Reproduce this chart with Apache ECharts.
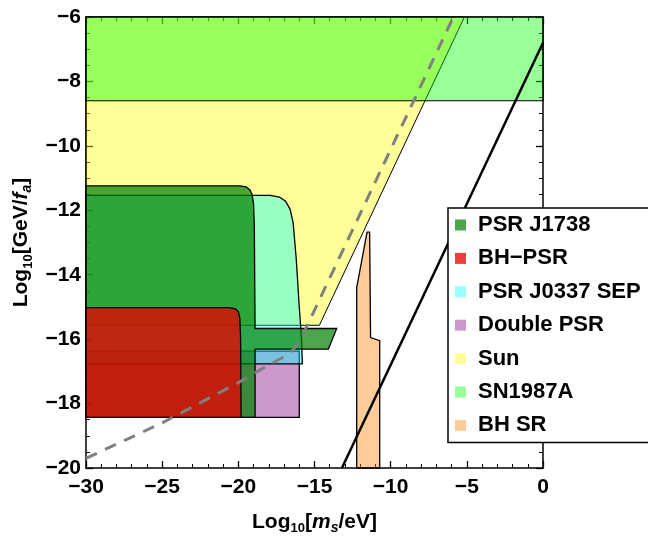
<!DOCTYPE html>
<html><head><meta charset="utf-8">
<script src="https://cdn.jsdelivr.net/npm/echarts@6/dist/echarts.min.js"></script>
<style>html,body{margin:0;padding:0;background:#fff}#c{width:648px;height:540px}</style>
</head><body><div id="c"></div>
<script>
// ---- data (x = log10(m_s/eV), y = log10(GeV/f_a)) ----
const sunRegion = [[-30,-6],[-5.16,-6],[-14.68,-15.57],[-30,-15.57]];
const sn1987aRegion = [[-30,-8.6],[0,-8.6],[0,-6],[-30,-6]];
const doublePsrRegion = [[-30,-16.37],[-16.0,-16.37],[-16.0,-18.43],[-30,-18.43]];
const j0337Region = [[-30,-11.54],[-17.9,-11.54],[-17.3,-11.59],[-16.9,-11.72],[-16.6,-11.97],[-16.4,-12.4],[-16.2,-13.5],[-16.0,-15.0],[-15.85,-16.0],[-15.8,-16.77],[-30,-16.77]];
const j1738Region = [[-30,-11.24],[-19.9,-11.24],[-19.5,-11.27],[-19.25,-11.36],[-19.1,-11.5],[-19.0,-11.8],[-18.95,-12.5],[-18.9,-15.67],[-13.54,-15.67],[-14.09,-16.31],[-18.9,-16.31],[-18.9,-18.43],[-30,-18.43]];
const bhPsrRegion = [[-30,-15.02],[-20.6,-15.02],[-20.2,-15.06],[-20.0,-15.15],[-19.9,-15.35],[-19.85,-16],[-19.82,-18.43],[-30,-18.43]];
const bhSrRegion = [[-12.23,-20],[-12.23,-14.4],[-11.55,-12.68],[-11.38,-12.68],[-11.32,-15.95],[-10.72,-16.05],[-10.72,-20]];
const dashedCurve = [[-30,-19.7],[-25,-18.6],[-20,-17.35],[-18,-16.8],[-17,-16.55],[-16.4,-16.33],[-15.9,-16.0],[-15.4,-15.5],[-5.88,-6.0]];
const blackLine = [[-13.2,-20],[0,-6.8]];
const legendNames = ['PSR J1738','BH\u2212PSR','PSR J0337 SEP','Double PSR','Sun','SN1987A','BH SR'];
const legendColors = ['#4da64d','#f03d3d','#99ffff','#cc99cc','#ffff99','#99ff99','#ffcc99'];
const xRange = [-30, 0], xStep = 5;
const yRange = [-20, -6], yStep = 2;

const FF = '"Liberation Sans", Arial, Helvetica, sans-serif';
function poly(name, pts, fill, lw) {
  return {
    type: 'custom', name, silent: true, coordinateSystem: 'cartesian2d',
    data: pts, encode: {x: 0, y: 1},
    renderItem: (params, api) => {
      if (params.dataIndex !== 0) return null;
      return {type: 'polygon', shape: {points: pts.map(p => api.coord(p))},
        style: {fill, stroke: '#000', lineWidth: lw}};
    }
  };
}
const minus = v => String(v).replace('-', '\u2212');
const rich = {
  b: {fontSize: 21, fontWeight: 'bold', fontFamily: FF, color: '#000', lineHeight: 26},
  sub: {fontSize: 13, fontWeight: 'bold', fontFamily: FF, color: '#000', lineHeight: 12, verticalAlign: 'bottom'},
  it: {fontSize: 21, fontWeight: 'bold', fontStyle: 'italic', fontFamily: FF, color: '#000', lineHeight: 26},
  itsub: {fontSize: 14, fontWeight: 'bold', fontStyle: 'italic', fontFamily: FF, color: '#000', lineHeight: 12, verticalAlign: 'bottom'}
};
function axisCommon(extra) {
  return Object.assign({
    type: 'value',
    axisLine: {show: true, onZero: false, lineStyle: {color: '#000', width: 1.5}},
    axisTick: {show: true, inside: true, length: 7, lineStyle: {color: '#000', width: 1.3}},
    minorTick: {show: true, length: 4, lineStyle: {color: '#000', width: 1}},
    splitLine: {show: false}, minorSplitLine: {show: false}
  }, extra);
}
const chart = echarts.init(document.getElementById('c'), null, {renderer: 'canvas'});
chart.setOption({
  animation: false,
  grid: {left: 86, right: 105, top: 17, bottom: 68, containLabel: false},
  xAxis: [
    axisCommon({min: xRange[0], max: xRange[1], interval: xStep, position: 'bottom',
      minorTick: {show: true, splitNumber: 5, length: 4, lineStyle: {color: '#000', width: 1}},
      axisLabel: {formatter: minus, fontSize: 21, fontWeight: 'bold', color: '#000', margin: 9, fontFamily: FF},
      name: '{b|Log}{sub|10}{b|[}{it|m}{itsub|s}{b|/eV]}', nameLocation: 'middle', nameGap: 41,
      nameTextStyle: {rich}}),
    axisCommon({min: xRange[0], max: xRange[1], interval: xStep, position: 'top',
      minorTick: {show: true, splitNumber: 5, length: 4, lineStyle: {color: '#000', width: 1}},
      axisLabel: {show: false}})
  ],
  yAxis: [
    axisCommon({min: yRange[0], max: yRange[1], interval: yStep, position: 'left',
      minorTick: {show: true, splitNumber: 4, length: 4, lineStyle: {color: '#000', width: 1}},
      axisLabel: {formatter: minus, fontSize: 21, fontWeight: 'bold', color: '#000', margin: 5, fontFamily: FF},
      name: '{b|Log}{sub|10}{b|[GeV/}{it|f}{itsub|a}{b|]}', nameLocation: 'middle', nameGap: 48,
      nameTextStyle: {rich}}),
    axisCommon({min: yRange[0], max: yRange[1], interval: yStep, position: 'right',
      minorTick: {show: true, splitNumber: 4, length: 4, lineStyle: {color: '#000', width: 1}},
      axisLabel: {show: false}})
  ],
  legend: {
    orient: 'vertical', left: 448, top: 208,
    padding: [6, 40, 6, 7], itemGap: 11.4, itemWidth: 11, itemHeight: 11,
    backgroundColor: '#fff', borderColor: '#000', borderWidth: 1.5, borderRadius: 0,
    icon: 'rect', selectedMode: false,
    textStyle: {fontSize: 22, fontWeight: 'bold', color: '#000', fontFamily: FF, lineHeight: 22, padding: [0, 0, 0, 7]},
    data: legendNames.map((n, i) => ({name: n, icon: 'rect', itemStyle: {color: legendColors[i], borderWidth: 0, opacity: 1}}))
  },
  series: [
    poly('Sun', sunRegion, 'rgba(255,255,0,0.4)', 1),
    poly('SN1987A', sn1987aRegion, 'rgba(0,255,0,0.4)', 1.2),
    poly('Double PSR', doublePsrRegion, 'rgba(128,0,128,0.4)', 1.3),
    poly('PSR J0337 SEP', j0337Region, 'rgba(0,255,255,0.4)', 1.3),
    poly('PSR J1738', j1738Region, 'rgba(0,128,0,0.7)', 1.3),
    poly('BH\u2212PSR', bhPsrRegion, 'rgba(235,0,0,0.76)', 1.3),
    poly('BH SR', bhSrRegion, 'rgba(255,128,0,0.4)', 1.3),
    {type: 'line', name: 'dashed', data: dashedCurve, symbol: 'none', silent: true,
      lineStyle: {color: '#808080', width: 3, type: [12, 9]}},
    {type: 'line', name: 'bound', data: blackLine, symbol: 'none', silent: true,
      lineStyle: {color: '#000', width: 2.5}}
  ]
});
</script></body></html>
